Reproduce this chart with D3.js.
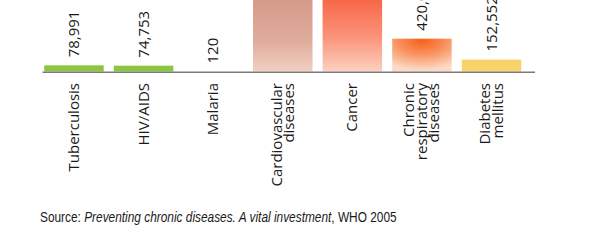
<!DOCTYPE html>
<html><head><meta charset="utf-8">
<script src="https://cdn.jsdelivr.net/npm/d3@7"></script>
<style>
html,body{margin:0;padding:0;background:#fff;overflow:hidden}
svg{display:block}
</style></head>
<body>
<svg id="c" width="599" height="244"></svg>
<script>
const categories = ["Tuberculosis","HIV/AIDS","Malaria","Cardiovascular diseases","Cancer","Chronic respiratory diseases","Diabetes mellitus"];
const categoryLines = [["Tuberculosis"],["HIV/AIDS"],["Malaria"],["Cardiovascular","diseases"],["Cancer"],["Chronic","respiratory","diseases"],["Diabetes","mellitus"]];
const deaths = [78991, 74753, 120, 4900000, 1900000, 420000, 152552];
const valueLabels = ["78,991","74,753","120","4,900,000","1,900,000","420,000","152,552"];
const fills = ["#8cc63f","#8cc63f","#8cc63f","url(#gCardio)","url(#gCancer)","url(#gResp)","url(#gDiab)"];
const sourceParts = [["Source: ","normal"],["Preventing chronic diseases. A vital investment","italic"],[", WHO 2005","normal"]];

const svg = d3.select("#c");
const baseY = 71.5;

const defs = svg.append("defs");
function lin(id, stops){
  const g = defs.append("linearGradient").attr("id", id)
    .attr("gradientUnits","userSpaceOnUse").attr("x1",0).attr("y1",0).attr("x2",0).attr("y2",baseY);
  stops.forEach(s => g.append("stop").attr("offset", s[0]).attr("stop-color", s[1]));
}
lin("gCardio", [[0,"#d6998a"],[0.6,"#e0ae9e"],[1,"#f2cfc3"]]);
lin("gCancer", [[0,"#f8674a"],[0.5,"#fa9278"],[1,"#fcd0c0"]]);
lin("gDiab", [[0,"#f7cb55"],[1,"#f9d46c"]]);
const rg = defs.append("radialGradient").attr("id","gResp")
  .attr("cx","0.5").attr("cy","0.05").attr("r","0.9").attr("fx","0.5").attr("fy","0.05");
rg.append("stop").attr("offset",0).attr("stop-color","#f7621a");
rg.append("stop").attr("offset",0.45).attr("stop-color","#f98f5a");
rg.append("stop").attr("offset",1).attr("stop-color","#fcd9c4");

const x = d3.scaleBand().domain(categories).range([44.2, 521.3]).paddingInner(0.145).paddingOuter(0);
const y = d3.scaleLinear().domain([0, 12800 * 71.5]).range([baseY, 0]);

const font = "'Open Sans','Noto Sans',sans-serif";

svg.selectAll("rect.bar").data(categories).join("rect")
  .attr("class","bar")
  .attr("x", d => x(d))
  .attr("width", x.bandwidth())
  .attr("y", (d,i) => y(deaths[i]))
  .attr("height", (d,i) => baseY - y(deaths[i]))
  .attr("fill", (d,i) => fills[i]);

// axis line
svg.append("line").attr("x1", 42.5).attr("x2", 535).attr("y1", 72.3).attr("y2", 72.3)
  .attr("stroke","#7a7a7a").attr("stroke-width",1.5);

// value labels (only those whose anchor lies inside the picture, as in the cropped original)
const visible = categories.map((d,i) => i).filter(i => y(deaths[i]) > 0);
svg.selectAll("text.val").data(visible).join("text")
  .attr("class","val")
  .attr("transform", i => `translate(${x(categories[i])+x.bandwidth()/2+5},${y(deaths[i])-8}) rotate(-90)`)
  .attr("font-family", font).attr("font-size", 15).attr("fill","#1a1a1a")
  .text(i => valueLabels[i]);

// category labels
const L = 12.5;
categories.forEach((c,i) => {
  const lines = categoryLines[i];
  const cx = x(c) + x.bandwidth()/2;
  lines.forEach((ln,j) => {
    const bx = cx + (j - (lines.length-1)/2) * L + 5;
    svg.append("text")
      .attr("transform", `translate(${bx},83) rotate(-90)`)
      .attr("text-anchor","end")
      .attr("font-family", font).attr("font-size", 15).attr("fill","#1a1a1a")
      .text(ln);
  });
});

// source line, horizontally condensed to the original's width
const srcX = 40, srcW = 357;
const sg = svg.append("g");
const src = sg.append("text").attr("x", 0).attr("y", 0)
  .attr("font-family","'Liberation Sans',Arial,sans-serif")
  .attr("font-size", 14).attr("fill","#1a1a1a").attr("xml:space","preserve");
sourceParts.forEach(p => src.append("tspan").attr("font-style", p[1]).text(p[0]));
const natural = src.node().getComputedTextLength();
sg.attr("transform", `translate(${srcX},222) scale(${srcW/natural},1)`);
</script>
</body></html>
